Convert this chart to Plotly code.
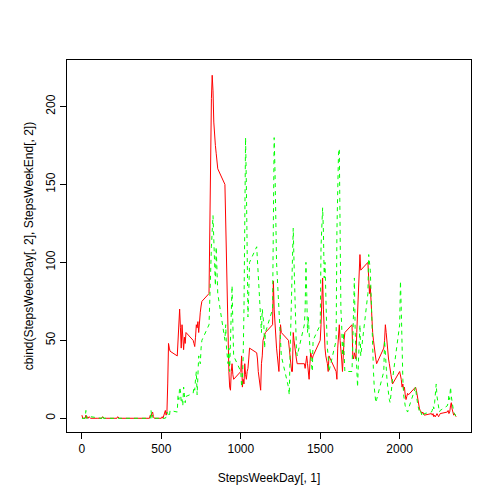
import plotly.graph_objects as go

hours = list(range(24))
intervals = [h * 100 + m for h in hours for m in range(0, 60, 5)]

weekday_by_hour = [
    [2, 0, 0, 0, 0, 2, 0, 1, 0, 1, 0, 0],
    [0, 0, 0, 0, 0, 0, 1, 0, 0, 0, 0, 0],
    [0, 0, 0, 0, 0, 1, 0, 0, 0, 0, 0, 0],
    [0, 0, 0, 0, 0, 0, 0, 0, 0, 0, 0, 0],
    [0, 0, 0, 0, 0, 0, 2, 1, 3, 4, 1, 0],
    [0, 1, 0, 2, 3, 5, 2, 4, 22, 48, 45, 43],
    [40, 50, 54, 70, 58, 45, 60, 50, 44, 52, 48, 55],
    [50, 48, 46, 52, 60, 58, 62, 55, 65, 68, 72, 75],
    [80, 130, 180, 205, 220, 210, 190, 180, 175, 170, 165, 160],
    [150, 125, 100, 70, 45, 30, 20, 18, 30, 35, 28, 25],
    [30, 40, 20, 25, 22, 35, 28, 25, 30, 32, 38, 45],
    [42, 38, 30, 26, 20, 18, 35, 40, 50, 52, 53, 55],
    [60, 88, 70, 60, 55, 45, 40, 35, 30, 45, 60, 55],
    [50, 45, 40, 35, 30, 30, 55, 50, 45, 42, 38, 35],
    [35, 32, 38, 40, 35, 30, 25, 35, 42, 40, 38, 40],
    [50, 60, 80, 90, 70, 55, 45, 40, 38, 35, 30, 40],
    [30, 25, 45, 55, 60, 50, 40, 38, 30, 45, 50, 55],
    [60, 40, 38, 42, 40, 38, 55, 70, 80, 100, 105, 95],
    [100, 90, 80, 85, 75, 60, 55, 50, 45, 40, 38, 35],
    [45, 50, 60, 55, 48, 40, 38, 35, 30, 28, 25, 22],
    [30, 28, 25, 20, 22, 18, 20, 15, 12, 14, 16, 15],
    [20, 18, 15, 10, 8, 6, 5, 4, 3, 4, 3, 2],
    [3, 2, 3, 1, 2, 1, 2, 3, 2, 1, 2, 3],
    [4, 5, 3, 4, 8, 10, 6, 4, 2, 3, 2, 1],
]
weekend_by_hour = [
    [0, 0, 0, 0, 0, 5, 0, 0, 0, 0, 0, 1],
    [0, 0, 0, 0, 0, 0, 2, 0, 0, 0, 0, 0],
    [0, 0, 0, 0, 0, 0, 0, 0, 0, 0, 0, 0],
    [0, 0, 0, 0, 0, 0, 0, 0, 0, 0, 0, 0],
    [0, 0, 0, 0, 0, 0, 0, 5, 0, 2, 0, 0],
    [0, 0, 0, 0, 0, 0, 1, 4, 3, 2, 1, 5],
    [4, 15, 12, 20, 18, 10, 12, 8, 20, 15, 10, 14],
    [16, 20, 18, 25, 30, 15, 35, 40, 38, 35, 45, 50],
    [60, 80, 95, 110, 120, 130, 115, 100, 85, 110, 95, 80],
    [50, 60, 45, 40, 35, 45, 30, 50, 65, 85, 60, 40],
    [30, 20, 25, 40, 70, 130, 180, 150, 90, 65, 80, 100],
    [110, 100, 90, 80, 75, 60, 55, 70, 65, 60, 45, 55],
    [70, 140, 180, 160, 120, 100, 90, 80, 70, 60, 50, 40],
    [20, 15, 40, 60, 90, 110, 122, 100, 80, 55, 45, 40],
    [60, 70, 100, 80, 55, 65, 50, 45, 40, 35, 30, 50],
    [60, 110, 130, 135, 120, 90, 100, 70, 60, 45, 40, 30],
    [50, 120, 150, 170, 173, 110, 70, 60, 40, 55, 35, 30],
    [30, 50, 60, 90, 55, 40, 30, 20, 35, 50, 60, 40],
    [80, 105, 100, 95, 80, 60, 45, 30, 20, 15, 10, 12],
    [30, 50, 40, 30, 25, 20, 15, 12, 10, 15, 20, 25],
    [60, 88, 70, 40, 25, 15, 10, 8, 6, 5, 4, 6],
    [20, 15, 10, 8, 6, 4, 5, 3, 2, 1, 2, 3],
    [4, 5, 8, 6, 10, 15, 22, 14, 10, 6, 4, 5],
    [8, 10, 15, 12, 20, 14, 10, 6, 4, 3, 2, 1],
]
weekday = [v for row in weekday_by_hour for v in row]
weekend = [v for row in weekend_by_hour for v in row]

fig = go.Figure()
fig.add_trace(go.Scatter(x=intervals, y=weekday, mode="lines",
                         line=dict(color="red", width=1)))
fig.add_trace(go.Scatter(x=intervals, y=weekend, mode="lines",
                         line=dict(color="#00ff00", width=1, dash="4px,4px")))

font = dict(family="Liberation Sans, Arial", size=12, color="black")
axis_common = dict(showgrid=False, zeroline=False, showline=True, mirror=True,
                   linecolor="black", linewidth=1, ticks="outside", ticklen=6,
                   tickcolor="black", tickfont=font)
fig.update_layout(
    width=504, height=504, showlegend=False,
    paper_bgcolor="white", plot_bgcolor="white",
    margin=dict(l=59, r=41, t=52, b=80),
    xaxis=dict(range=[-94, 2449], tickvals=[0, 500, 1000, 1500, 2000],
               title=dict(text="StepsWeekDay[, 1]", standoff=18, font=font), **axis_common),
    yaxis=dict(range=[-8.8, 229.8], tickvals=[0, 50, 100, 150, 200], tickangle=-90,
               title=dict(text="cbind(StepsWeekDay[, 2], StepsWeekEnd[, 2])", standoff=8,
                          font=font), **axis_common),
)
fig.write_html("out.html")
